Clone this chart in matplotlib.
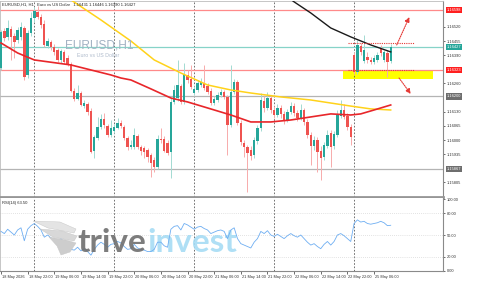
import numpy as np
import matplotlib.pyplot as plt
from matplotlib.patches import Rectangle, Polygon
from matplotlib.transforms import blended_transform_factory, ScaledTranslation

plt.rcParams['font.family'] = ['Liberation Sans', 'DejaVu Sans']

# EURUSD H1 bars, 18 May 14:00 -> 25 May 11:00 (weekend skipped)
opens = [1.16331, 1.16501, 1.16474, 1.16511, 1.16478, 1.16460, 1.16474, 1.16515, 1.16299, 1.16492,
         1.16561, 1.16589, 1.16566, 1.16534, 1.16432, 1.16451, 1.16428, 1.16414, 1.16368, 1.16405,
         1.16377, 1.16350, 1.16225, 1.16189, 1.16216, 1.16156, 1.16166, 1.16133, 1.15949, 1.16009,
         1.16060, 1.16097, 1.16064, 1.16023, 1.16041, 1.16055, 1.16078, 1.16060, 1.16009, 1.15968,
         1.15968, 1.16018, 1.15968, 1.15963, 1.15954, 1.15931, 1.15908, 1.15876, 1.16005, 1.16005,
         1.15986, 1.15945, 1.16175, 1.16193, 1.16248, 1.16175, 1.16299, 1.16281, 1.16216, 1.16230,
         1.16253, 1.16262, 1.16248, 1.16225, 1.16170, 1.16184, 1.16207, 1.16221, 1.16198, 1.16069,
         1.16221, 1.16267, 1.16078, 1.15986, 1.15968, 1.15954, 1.15931, 1.15995, 1.16055, 1.16179,
         1.16147, 1.16193, 1.16138, 1.16115, 1.16147, 1.16120, 1.16092, 1.16129, 1.16156, 1.16124,
         1.16101, 1.16138, 1.16083, 1.16023, 1.15972, 1.16000, 1.15949, 1.15922, 1.15972, 1.16032,
         1.15972, 1.16023, 1.16110, 1.16138, 1.16110, 1.16060, 1.16391, 1.16313, 1.16432, 1.16363,
         1.16382, 1.16368, 1.16359, 1.16368, 1.16423, 1.16368, 1.16400, 1.16363]
highs = [1.16506, 1.16515, 1.16552, 1.16524, 1.16492, 1.16520, 1.16543, 1.16524, 1.16506, 1.16589,
         1.16612, 1.16616, 1.16580, 1.16552, 1.16469, 1.16460, 1.16442, 1.16423, 1.16419, 1.16414,
         1.16391, 1.16359, 1.16239, 1.16253, 1.16225, 1.16184, 1.16175, 1.16147, 1.16023, 1.16106,
         1.16120, 1.16124, 1.16074, 1.16092, 1.16074, 1.16101, 1.16092, 1.16069, 1.16018, 1.16000,
         1.16055, 1.16028, 1.15977, 1.15972, 1.15963, 1.15940, 1.15922, 1.16023, 1.16055, 1.16018,
         1.16000, 1.16193, 1.16253, 1.16368, 1.16258, 1.16354, 1.16322, 1.16345, 1.16248, 1.16276,
         1.16285, 1.16345, 1.16262, 1.16239, 1.16202, 1.16221, 1.16235, 1.16230, 1.16207, 1.16345,
         1.16281, 1.16276, 1.16092, 1.16000, 1.15977, 1.15972, 1.16014, 1.16069, 1.16216, 1.16202,
         1.16221, 1.16207, 1.16156, 1.16166, 1.16161, 1.16133, 1.16143, 1.16175, 1.16170, 1.16138,
         1.16166, 1.16147, 1.16097, 1.16037, 1.16018, 1.16014, 1.15972, 1.15991, 1.16046, 1.16046,
         1.16041, 1.16138, 1.16184, 1.16166, 1.16124, 1.16074, 1.16405, 1.16460, 1.16446, 1.16483,
         1.16405, 1.16382, 1.16391, 1.16405, 1.16437, 1.16414, 1.16414, 1.16442]
lows = [1.16322, 1.16455, 1.16460, 1.16368, 1.16377, 1.16446, 1.16460, 1.16276, 1.16285, 1.16478,
        1.16543, 1.16557, 1.16515, 1.16428, 1.16423, 1.16414, 1.16391, 1.16359, 1.16354, 1.16350,
        1.16340, 1.16221, 1.16179, 1.16184, 1.16156, 1.16147, 1.16115, 1.15940, 1.15917, 1.16000,
        1.16051, 1.16055, 1.16014, 1.16014, 1.16032, 1.16051, 1.16055, 1.16000, 1.15954, 1.15959,
        1.15959, 1.15959, 1.15931, 1.15917, 1.15899, 1.15830, 1.15853, 1.15867, 1.15986, 1.15945,
        1.15931, 1.15825, 1.16166, 1.16179, 1.16166, 1.16166, 1.16262, 1.16235, 1.16207, 1.16221,
        1.16244, 1.16230, 1.16212, 1.16161, 1.16161, 1.16175, 1.16198, 1.16189, 1.15931, 1.16060,
        1.16212, 1.16069, 1.15977, 1.15922, 1.15761, 1.15908, 1.15917, 1.15982, 1.16041, 1.16129,
        1.16138, 1.16124, 1.16101, 1.16106, 1.16101, 1.16074, 1.16083, 1.16120, 1.16110, 1.16087,
        1.16092, 1.16069, 1.16009, 1.15885, 1.15954, 1.15853, 1.15816, 1.15908, 1.15963, 1.15876,
        1.15959, 1.16014, 1.16101, 1.16097, 1.16046, 1.15977, 1.16304, 1.16304, 1.16391, 1.16354,
        1.16354, 1.16350, 1.16350, 1.16359, 1.16386, 1.16359, 1.16290, 1.16354]
closes = [1.16497, 1.16469, 1.16515, 1.16474, 1.16451, 1.16506, 1.16520, 1.16290, 1.16492, 1.16561,
          1.16593, 1.16566, 1.16529, 1.16437, 1.16455, 1.16428, 1.16405, 1.16368, 1.16409, 1.16359,
          1.16350, 1.16225, 1.16189, 1.16216, 1.16161, 1.16170, 1.16129, 1.15945, 1.16014, 1.16060,
          1.16097, 1.16069, 1.16023, 1.16055, 1.16060, 1.16078, 1.16064, 1.16009, 1.15968, 1.15977,
          1.16023, 1.15968, 1.15949, 1.15945, 1.15922, 1.15894, 1.15876, 1.16005, 1.16000, 1.15949,
          1.15940, 1.16175, 1.16230, 1.16253, 1.16175, 1.16304, 1.16276, 1.16244, 1.16235, 1.16262,
          1.16267, 1.16239, 1.16221, 1.16170, 1.16189, 1.16207, 1.16221, 1.16198, 1.16069, 1.16221,
          1.16267, 1.16078, 1.15991, 1.15968, 1.15940, 1.15926, 1.16000, 1.16055, 1.16184, 1.16147,
          1.16193, 1.16138, 1.16115, 1.16147, 1.16120, 1.16092, 1.16129, 1.16156, 1.16124, 1.16101,
          1.16138, 1.16083, 1.16023, 1.15972, 1.16000, 1.15945, 1.15917, 1.15977, 1.16023, 1.15968,
          1.16028, 1.16120, 1.16138, 1.16106, 1.16060, 1.16014, 1.16313, 1.16437, 1.16405, 1.16414,
          1.16368, 1.16359, 1.16377, 1.16391, 1.16400, 1.16405, 1.16359, 1.16427]

# moving averages, read at a few bars
ma_red_bar = [0, 5, 10, 21, 33, 36, 39, 45, 51, 56, 61, 69, 75, 81, 87, 93, 99, 105, 108, 112, 117]
ma_red = [1.16446, 1.16400, 1.16368, 1.16345, 1.16299, 1.16285, 1.16276, 1.16235, 1.16193, 1.16175,
          1.16152, 1.16115, 1.16083, 1.16083, 1.16092, 1.16106, 1.16120, 1.16115, 1.16120, 1.16138,
          1.16161]
ma_yellow_bar = [19, 21, 30, 39, 46, 54, 62, 69, 75, 84, 93, 99, 105, 111, 117]
ma_yellow = [1.16660, 1.16644, 1.16552, 1.16455, 1.16368, 1.16308, 1.16253, 1.16230, 1.16216, 1.16198,
             1.16184, 1.16170, 1.16156, 1.16143, 1.16138]
ma_black_bar = [84, 88, 93, 99, 105, 111, 117]
ma_black = [1.16681, 1.16635, 1.16584, 1.16515, 1.16474, 1.16437, 1.16405]

rsi = [55, 52, 58, 54, 50, 57, 60, 42, 58, 63, 66, 62,
       57, 47, 50, 46, 43, 40, 45, 40, 38, 30,
       29, 33, 28, 31, 27, 22,
       30, 36, 40, 37, 33, 37, 38, 41, 39,
       34, 30, 31, 37, 32, 30, 29, 27, 27, 30,
       40, 40, 35, 33,
       58, 62, 63, 57, 66, 64, 61,
       58, 61, 62, 59, 57, 52, 54, 56, 57, 55,
       45, 57, 60, 45, 38, 36, 34,
       32, 40, 45, 55, 52, 56, 50, 48,
       51, 48, 45, 49, 52, 49, 47, 50, 45, 40,
       36, 38, 34, 31, 37, 41, 36, 41,
       50, 52, 49, 45, 41,
       66, 71, 68, 69, 66, 65, 66, 67, 69, 67, 63, 63.5]

# horizontal levels
levels = [1.16598, 1.16427, 1.16323, 1.16200, 1.15867]
level_colors = ['#ff8a8a', '#86d3c8', '#ff8a8a', '#b4b4b4', '#b4b4b4']
level_box = ['#ff1f1f', '#26a69a', '#ff1f1f', '#6e6e6e', '#6e6e6e']

# price scale ticks not hidden under the level labels
price_ticks = [1.15805, 1.15935, 1.16000, 1.16065, 1.16130, 1.16260, 1.16390, 1.16455, 1.16520]
rsi_ticks = [0, 20, 50, 80, 100]
day_bars = [10, 34, 58, 82, 106]
time_bars = [0, 8, 16, 24, 32, 40, 48, 56, 64, 72, 80, 88, 96, 104, 112]
time_labels = ['18 May 2026', '18 May 22:00', '19 May 06:00', '19 May 14:00', '19 May 22:00',
               '20 May 06:00', '20 May 14:00', '20 May 22:00', '21 May 06:00', '21 May 14:00',
               '21 May 22:00', '22 May 06:00', '22 May 14:00', '22 May 22:00', '25 May 06:00']

W, H = 500, 281
fig = plt.figure(figsize=(5, 2.81), dpi=100)


def box(l, t, r, b):
    return [l / W, 1 - b / H, (r - l) / W, (b - t) / H]


def fpx(pts):
    return [(px / W, 1 - py / H) for px, py in pts]


ax = fig.add_axes(box(0, 1, 443, 197))
rx = fig.add_axes(box(0, 198, 443, 271), sharex=ax)

x = np.arange(len(closes))
o, hi, lo, c = map(np.array, (opens, highs, lows, closes))
up = c >= o
ax.vlines(x[up], lo[up], hi[up], color='#a3dad2', lw=0.7, zorder=4)
ax.vlines(x[~up], lo[~up], hi[~up], color='#f7abab', lw=0.7, zorder=4)
ax.bar(x, np.maximum(np.abs(c - o), 0.00003), bottom=np.minimum(o, c), width=0.72,
       color=np.where(up, '#26a69a', '#ef5350'), linewidth=0, zorder=5)

ax.plot(ma_yellow_bar, ma_yellow, color='#ffd21a', lw=1.1, zorder=6)
ax.plot(ma_red_bar, ma_red, color='#e8262a', lw=1.2, zorder=6)
ax.plot(ma_black_bar, ma_black, color='#1a1a1a', lw=1.0, zorder=6)

for lv, col in zip(levels, level_colors):
    ax.axhline(lv, color=col, lw=0.9, zorder=2)

# trade idea marks
ax.add_patch(Rectangle((102.7, 1.16281), 27, 0.00041, fc='#ffff00', ec='none', zorder=1))
ax.hlines([1.16446, 1.16322], 104.2, 124, color='#e53935', lw=0.8, ls=(0, (1, 1)), zorder=7)
ax.annotate('', xy=(122.6, 1.16565), xytext=(118.8, 1.16437),
            arrowprops=dict(arrowstyle='-|>', color='#e53935', lw=0.8, ls=(0, (1, 1)),
                            mutation_scale=7, shrinkA=0, shrinkB=0), zorder=7)
ax.annotate('', xy=(123.0, 1.16212), xytext=(119.5, 1.16285),
            arrowprops=dict(arrowstyle='-|>', color='#e53935', lw=0.8, ls=(0, (1, 1)),
                            mutation_scale=7, shrinkA=0, shrinkB=0), zorder=7)

for a in (ax, rx):
    for b in day_bars:
        a.axvline(b, color='#5a5a5a', lw=0.6, ls=(0, (2, 2)), zorder=1)

ax.set_xlim(-0.3, 132.7)
ax.set_ylim(1.15738, 1.16639)
ax.yaxis.tick_right()
ax.set_yticks(price_ticks)
ax.set_yticklabels(['%.5f' % t for t in price_ticks])
ax.tick_params(axis='y', labelsize=2.9, length=1.5, width=0.5, pad=1.2, colors='#333333')
ax.tick_params(axis='x', bottom=False, labelbottom=False)
for s in ('left', 'top'):
    ax.spines[s].set_color('#bdbdbd')
    ax.spines[s].set_linewidth(0.6)
ax.spines['right'].set_color('#8a8a8a')
ax.spines['right'].set_linewidth(0.8)
ax.spines['bottom'].set_color('#969696')
ax.spines['bottom'].set_linewidth(2.0)

tr = blended_transform_factory(ax.transAxes, ax.transData)
for lv, col in zip(levels, level_box):
    ax.text(1.008, lv, '%.5f' % lv, transform=tr, ha='left', va='center', fontsize=2.9,
            color='white', zorder=10, clip_on=False,
            bbox=dict(boxstyle='square,pad=0.25', fc=col, ec='none'))

# RSI panel
rx.plot(x, rsi, color='#6eaef2', lw=0.6, zorder=5)
for lv in (20, 50, 80):
    rx.axhline(lv, color='#c8c8c8', lw=0.5, ls=(0, (1, 2)), zorder=1)
rx.set_ylim(0, 101.4)
rx.yaxis.tick_right()
rx.set_yticks(rsi_ticks)
rx.set_yticklabels(['%.2f' % t for t in rsi_ticks])
rx.tick_params(axis='y', labelsize=2.9, length=1.5, width=0.5, pad=1.2, colors='#333333')
rx.set_xticks(time_bars)
rx.set_xticklabels(time_labels)
rx.tick_params(axis='x', labelsize=2.8, length=2.0, width=0.5, pad=0.8, colors='#333333')
shift = ScaledTranslation(1.0 / 100, 0, fig.dpi_scale_trans)
for lab in rx.get_xticklabels():
    lab.set_horizontalalignment('left')
    lab.set_transform(lab.get_transform() + shift)
rx.spines['top'].set_visible(False)
rx.spines['left'].set_color('#bdbdbd')
rx.spines['left'].set_linewidth(0.6)
for s in ('right', 'bottom'):
    rx.spines[s].set_color('#8a8a8a')
    rx.spines[s].set_linewidth(0.8)

# texts
fig.text(2 / W, 1 - 4.5 / H, 'EURUSD,H1, H1   Euro vs US Dollar   1.16431 1.16446 1.16390 1.16427',
         fontsize=3.0, color='#222222', va='center', ha='left')
fig.text(2 / W, 1 - 203 / H, 'RSI(14) 63.50', fontsize=3.0, color='#222222', va='center', ha='left')
fig.text(65 / W, 1 - 45 / H, 'EURUSD,H1', fontsize=8.6, color='#a2b2c3', va='center', ha='left',
         zorder=3)
fig.text(77 / W, 1 - 55.5 / H, 'Euro vs US Dollar', fontsize=3.8, color='#aebacb', va='center',
         ha='left', zorder=3)

# broker watermark: wing and word mark
wing = [
    [(33, 221), (60, 222), (76, 229), (74, 233), (48, 228)],
    [(40, 229), (62, 231), (77, 236), (74, 241), (53, 237)],
    [(49, 237), (66, 240), (76, 243), (70, 252), (61, 255), (57, 246)],
]
for k, pts in enumerate(wing):
    fig.patches.append(Polygon(fpx(pts), closed=True, transform=fig.transFigure,
                               fc=('#e4e4e4', '#d8d8d8', '#cdcdcd')[k], ec='#c4c4c4', lw=0.3,
                               zorder=2))
t1 = fig.text(77 / W, 1 - 252 / H, 'trive', fontsize=24, fontweight='bold', family='Lato',
              color='#6f6f6f', alpha=0.9, va='baseline', ha='left', zorder=3)
rx.annotate('invest', xy=(1, 0), xycoords=t1, xytext=(1.5, 0), textcoords='offset points',
            fontsize=24, fontweight='bold', family='Lato', color='#a6dcf4', alpha=0.9,
            va='bottom', ha='left', zorder=3, annotation_clip=False)

fig.savefig('out.png', dpi=100, facecolor='white')
